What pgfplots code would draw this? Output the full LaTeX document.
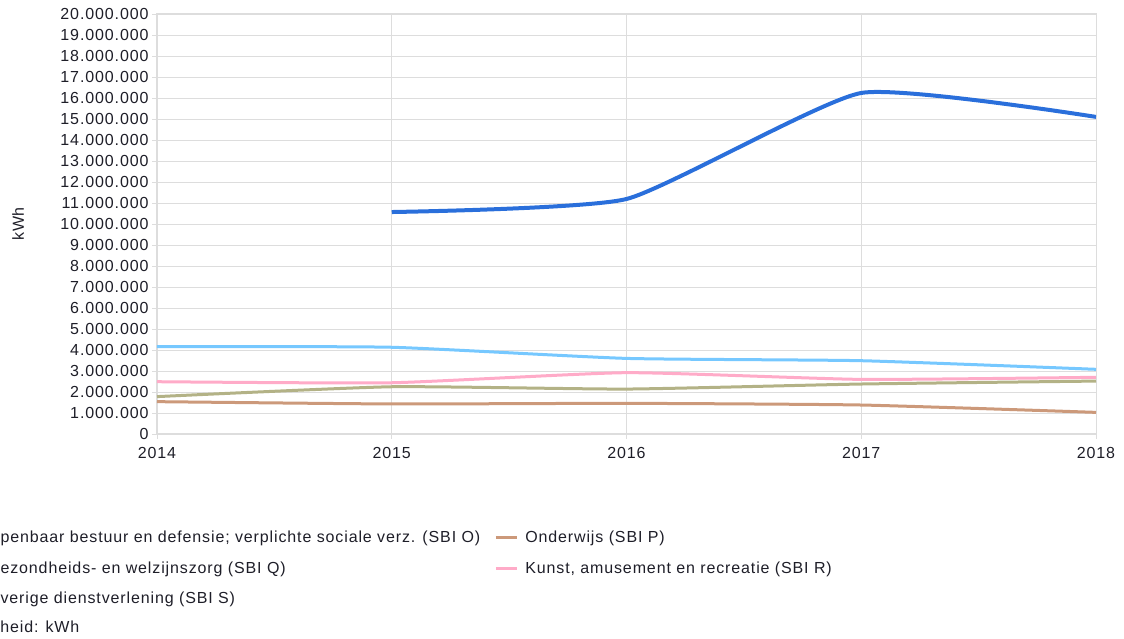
\documentclass[border=0pt]{standalone}
\usepackage{pgfplots}
\pgfplotsset{compat=1.18}
\usepackage{fontspec}
\setmainfont{Liberation Sans}[LetterSpace=5.5]
\definecolor{cDark}{RGB}{42,111,219}
\definecolor{cLight}{RGB}{118,200,255}
\definecolor{cPink}{RGB}{255,171,200}
\definecolor{cKhaki}{RGB}{179,178,134}
\definecolor{cBrown}{RGB}{204,153,122}
\definecolor{cGrid}{RGB}{221,221,221}
\definecolor{cTxt}{RGB}{30,30,40}
\begin{document}
\begin{tikzpicture}[x=1pt,y=1pt]
\useasboundingbox (-157,-205) rectangle (967,434);
\begin{axis}[
  at={(0,0)}, anchor=south west,
  scale only axis, width=939pt, height=420pt,
  xmin=2014, xmax=2018, ymin=0, ymax=20000000,
  xtick={2014,2015,2016,2017,2018},
  xticklabels={2014,2015,2016,2017,2018},
  ytick={0,1000000,...,20000000},
  yticklabels={0,1.000.000,2.000.000,3.000.000,4.000.000,5.000.000,6.000.000,7.000.000,8.000.000,9.000.000,10.000.000,11.000.000,12.000.000,13.000.000,14.000.000,15.000.000,16.000.000,17.000.000,18.000.000,19.000.000,20.000.000},
  scaled y ticks=false,
  grid=major, major grid style={cGrid, line width=0.9pt},
  axis line style={cGrid, line width=1pt},
  tick style={cGrid, line width=0.9pt},
  tick align=outside, major tick length=5pt,
  xtick pos=bottom, ytick pos=left,
  ticklabel style={font=\fontsize{16}{19}\selectfont, text=cTxt},
  yticklabel style={xshift=0pt},
  xticklabel style={yshift=-5pt},
  ylabel={kWh},
  ylabel style={font=\fontsize{16}{19}\selectfont, text=cTxt, at={(axis description cs:-0.148,0.5)}, anchor=center, rotate=0},
  legend columns=2,
  legend cell align=left,
  legend style={draw=none, fill=none, font=\fontsize{16}{19}\selectfont, text=cTxt,
    at={(axis description cs:0,0)}, anchor=north west, xshift=-204pt, yshift=-93pt,
    row sep=13.3pt,
    /tikz/every odd column/.append style={column sep=5pt},
    /tikz/every even column/.append style={column sep=12pt}},
  legend image code/.code={\draw[#1, line width=3pt] (0pt,0pt) -- (21pt,0pt);},
]
\addplot[cDark, line width=4pt, smooth, tension=0.3] coordinates {(2015,10570000) (2016,11190000) (2017,16240000) (2018,15100000)};
\addlegendentry{Openbaar bestuur en defensie; verplichte sociale verz. (SBI O)}
\addplot[cBrown, line width=3pt, smooth, tension=0.3] coordinates {(2014,1540000) (2015,1430000) (2016,1460000) (2017,1380000) (2018,1030000)};
\addlegendentry{Onderwijs (SBI P)}
\addplot[cLight, line width=3pt, smooth, tension=0.3] coordinates {(2014,4160000) (2015,4130000) (2016,3600000) (2017,3490000) (2018,3080000)};
\addlegendentry{Gezondheids- en welzijnszorg (SBI Q)}
\addplot[cPink, line width=3pt, smooth, tension=0.3] coordinates {(2014,2490000) (2015,2440000) (2016,2920000) (2017,2600000) (2018,2700000)};
\addlegendentry{Kunst, amusement en recreatie (SBI R)}
\addplot[cKhaki, line width=3pt, smooth, tension=0.3] coordinates {(2014,1780000) (2015,2250000) (2016,2140000) (2017,2380000) (2018,2520000)};
\addlegendentry{Overige dienstverlening (SBI S)}
\end{axis}
\node[anchor=west, font=\fontsize{16}{19}\selectfont, text=cTxt, inner sep=0pt] at (-188,-193) {Eenheid: kWh};
\end{tikzpicture}
\end{document}
